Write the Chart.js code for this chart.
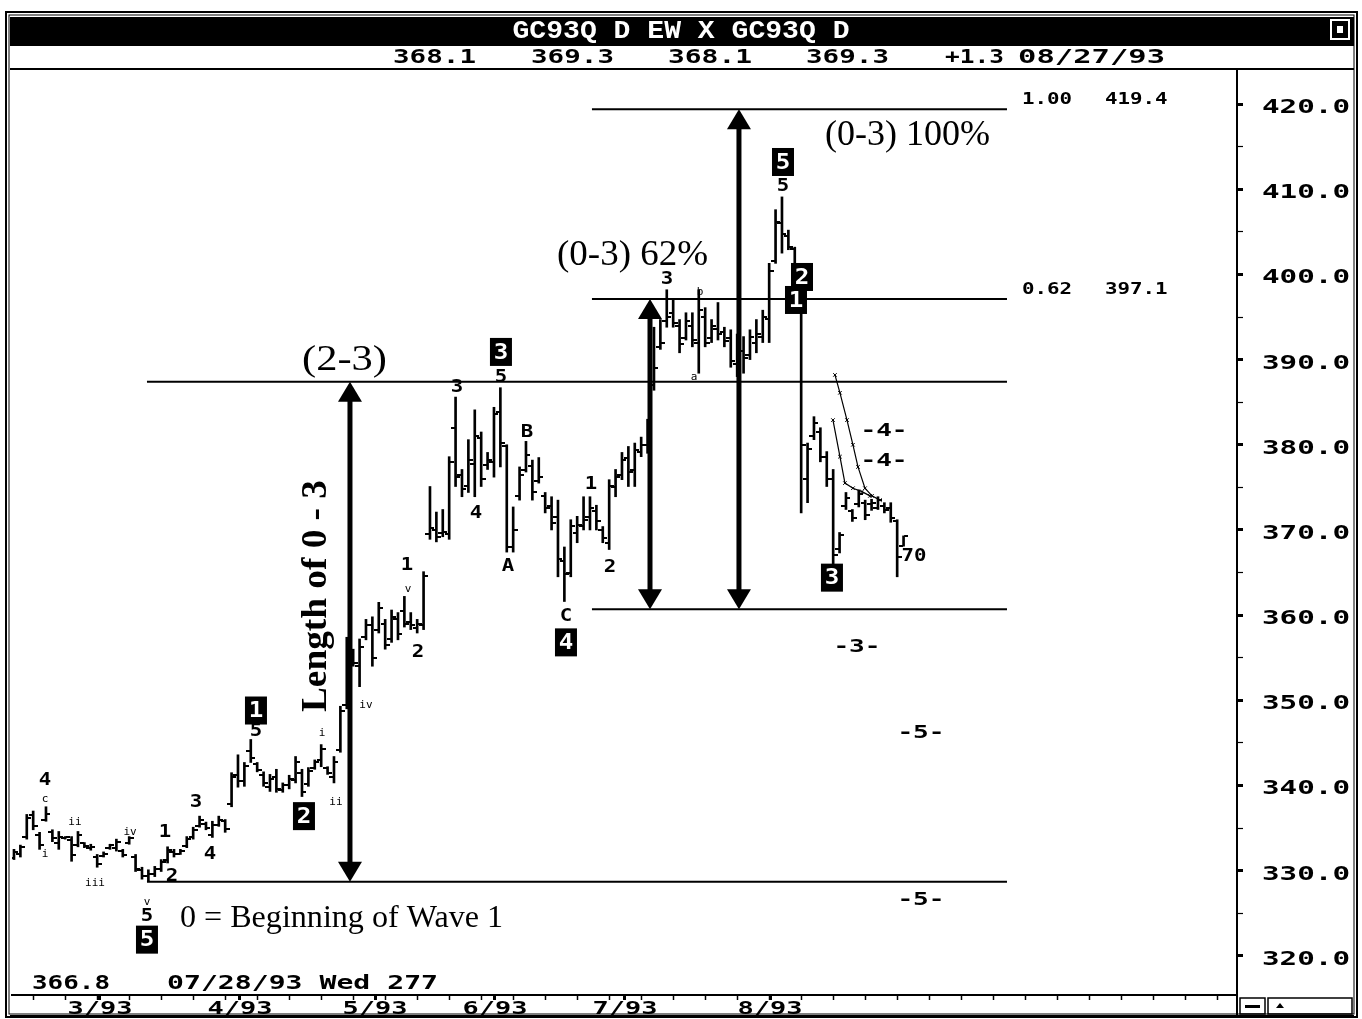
<!DOCTYPE html>
<html><head><meta charset="utf-8">
<script src="https://cdn.jsdelivr.net/npm/chart.js@4.4.1/dist/chart.umd.min.js"></script>
<style>html,body{margin:0;padding:0;background:#fff;}canvas{display:block;}</style>
</head><body>
<canvas id="c" width="1362" height="1019"></canvas>
<script>
// ---------- DATA ----------
const highs = [332.5,333.0,336.6,337.0,334.5,337.5,334.8,334.6,334.0,334.0,
334.6,333.3,333.1,331.9,332.2,333.1,333.7,332.5,334.0,331.9,
330.4,330.1,330.5,331.3,332.8,332.5,332.5,334.0,335.1,336.4,
335.7,335.8,336.4,336.0,341.5,343.6,342.7,345.4,342.7,341.6,
341.3,341.9,340.3,341.2,343.4,341.9,342.1,343.0,344.8,342.2,343.4,
349.3,357.4,356.0,357.2,359.5,359.8,361.5,359.5,360.6,360.3,
362.2,360.3,359.5,365.1,375.1,372.1,372.4,378.6,385.6,377.1,
380.6,384.1,381.5,379.1,384.4,386.7,380.0,372.7,377.4,380.4,
378.2,378.5,374.4,373.9,373.5,368.0,371.2,371.6,373.9,373.9,
372.9,370.4,375.9,377.1,379.1,379.8,380.2,380.9,383.0,393.8,
394.7,398.2,397.0,394.7,395.5,395.5,398.2,396.1,394.7,396.7,
393.8,393.5,393.0,392.7,393.5,394.7,395.8,401.3,407.6,
409.1,405.2,403.2,399.4,380.2,383.3,382.0,379.2,377.1,369.7,
374.4,372.4,374.7,373.5,373.6,373.9,373.2,373.2,371.2,369.3];
const lows = [331.3,331.6,333.7,334.8,332.5,335.8,333.4,332.5,333.7,331.1,
332.8,332.7,332.4,330.4,331.6,332.5,332.3,331.6,333.1,329.9,
329.0,328.7,329.3,329.9,330.9,331.6,331.9,332.7,333.7,335.1,
334.8,333.9,335.2,334.5,337.5,339.8,339.9,342.7,341.6,339.9,
339.3,339.2,339.2,339.6,340.3,338.7,339.9,341.9,342.2,341.3,340.3,
343.9,349.0,354.0,351.6,357.1,354.0,357.9,356.0,356.8,357.1,
358.6,358.3,357.9,358.3,368.9,368.6,369.2,368.9,375.1,373.9,
374.4,373.9,375.1,377.1,376.2,377.4,367.4,367.4,373.5,376.8,
373.5,375.5,372.0,370.0,364.5,361.6,364.5,368.5,370.0,370.0,
370.0,368.5,367.7,373.9,375.9,375.1,375.1,378.6,379.0,386.4,
391.2,393.8,393.8,390.8,392.3,391.5,388.4,391.5,392.0,392.3,
391.5,389.1,388.0,388.4,390.0,390.8,392.0,392.0,401.3,
402.5,402.9,399.0,372.0,373.2,380.6,378.0,375.1,365.9,367.3,
372.4,371.0,372.7,371.2,372.3,372.4,372.0,370.9,364.5,368.1];
const opens = [331.5,332.0,334.0,336.5,334.2,336.0,334.5,333.2,333.8,333.6,
333.0,333.2,332.6,331.6,331.7,332.6,332.6,332.3,333.3,331.6,
330.1,329.4,329.6,330.2,331.2,332.2,332.0,332.9,333.9,335.3,
335.5,334.2,335.4,335.8,337.8,341.2,340.5,344.0,342.5,341.2,
339.8,341.0,339.5,340.0,340.6,341.5,340.2,342.0,343.0,342.0,341.0,
344.2,349.5,355.6,354.0,357.4,358.8,358.3,359.0,357.2,359.6,
360.5,359.2,358.5,358.8,369.5,370.0,369.6,369.5,382.0,376.5,
375.2,377.8,380.8,377.6,378.0,383.8,379.8,368.0,374.0,377.0,
377.5,375.8,374.0,372.8,371.5,366.4,365.0,369.6,370.5,371.5,
372.2,370.0,368.5,375.0,376.4,378.5,377.0,379.2,380.0,387.0,
391.5,394.5,395.5,394.0,392.5,394.0,392.0,395.0,392.5,393.6,
393.2,392.5,389.5,391.0,390.5,392.0,392.6,394.8,401.6,
406.0,404.5,403.0,398.8,376.0,381.0,381.5,378.6,376.0,367.8,
372.8,372.2,373.0,373.2,373.0,372.6,372.8,372.6,371.0,368.1];
const closes = [332.2,332.8,336.2,335.2,333.0,336.6,333.8,334.0,333.9,331.8,
334.2,332.9,332.8,330.8,332.0,333.0,333.4,331.8,333.8,330.2,
329.4,329.6,330.2,331.0,332.4,331.9,332.3,333.7,334.8,336.0,
335.0,335.4,336.0,334.9,341.0,340.5,342.3,343.2,341.8,340.3,
340.8,339.6,340.0,340.8,342.8,339.2,341.7,342.7,344.3,341.5,342.8,
348.8,356.8,354.4,356.2,358.8,355.0,360.8,356.5,359.8,357.8,
359.0,358.8,359.0,364.6,370.2,369.2,369.8,378.0,376.2,374.8,
378.2,381.0,376.0,378.2,383.6,380.2,368.0,370.0,376.5,378.8,
374.5,376.2,372.6,370.8,366.6,364.8,370.5,370.6,371.2,372.6,
371.0,369.0,375.2,376.2,378.2,376.8,379.4,380.0,382.5,389.0,
392.0,395.0,394.3,391.8,394.5,392.3,395.8,392.0,394.0,393.0,
392.2,389.8,391.0,390.2,392.6,393.0,395.0,400.4,406.2,
404.8,403.2,399.5,380.0,379.5,382.5,378.6,376.0,367.0,369.4,
373.8,371.4,374.2,371.8,373.2,373.5,372.4,371.4,366.8,369.3];

// axis ticks / labels
const yTickValues = [320,325,330,335,340,345,350,355,360,365,370,375,380,385,390,395,400,405,410,415,420];
const monthLabels = ['3/93','4/93','5/93','6/93','7/93','8/93'];
const monthPos = [13.44, 35.31, 56.41, 75.16, 95.47, 118.13];

// header values
const titleText = 'GC93Q D EW X GC93Q D';
const headerValues = ['368.1','369.3','368.1','369.3','+1.3','08/27/93'];
const cursorReadout = ['366.8','07/28/93 Wed 277'];

// projection levels
const zeroLevel = 328.7;     // 0 = beginning of wave 1
const wave3Level = 387.4;    // top of wave 3
const wave4Level = 360.7;    // low of wave 4
const fibRatios = ['1.00','0.62'];
const fibValues = [419.4, 397.1];

// wave labels [text, barIndex, price]
const boldLabels = [['4',4.84,340.6],['1',23.59,334.5],['2',24.69,329.3],['3',28.44,338.0],['4',30.63,331.9],
 ['5',20.78,324.6],['5',37.81,346.3],['1',61.41,365.8],['2',63.13,355.6],['3',69.22,386.7],['5',76.09,387.9],
 ['4',72.19,372.0],['B',80.16,381.5],['A',77.19,365.7],['1',90.16,375.3],['2',93.13,365.6],['C',86.25,359.8],
 ['3',102.03,399.4],['5',120.16,410.4],['70',140.63,366.9]];
const dashLabels = [['-4-',135.94,381.6],['-4-',135.94,378.1],['-3-',131.72,356.2],['-5-',141.72,346.1],['-5-',141.72,326.5]];
const smallLabels = [['c',4.84,338.4],['i',4.84,331.9],['ii',9.53,335.7],['iii',12.66,328.5],['iv',18.13,334.5],
 ['v',20.78,326.3],['i',48.13,346.2],['ii',50.31,338.0],['iv',55.0,349.4],['v',61.56,363.0],['b',107.19,397.9],['a',106.25,387.9]];
const boxLabels = [['5',20.78,321.9],['1',37.81,348.8],['2',45.31,336.4],['3',76.09,390.9],['4',86.25,356.8],
 ['5',120.16,413.2],['2',123.13,399.7],['1',122.19,397.0],['3',127.81,364.4]];

// projection "x" lines
const projUpperX = [128.28,129.06,130.16,131.09,131.88,132.97,134.06,135.31];
const projUpperY = [388.2,386.1,382.9,380.0,377.4,374.9,374.0,373.5];
const projLowerX = [127.97,129.06,129.84,131.09,132.5,133.75];
const projLowerY = [382.9,378.6,375.5,374.9,374.5,374.0];

// annotation geometry (in data units)
const lineStartWave = 20.78, lineStartFib = 90.31, lineEnd = 155.16;
const arrowX = [52.5, 99.38, 113.28];
const arrowTop = [wave3Level, fibValues[1], fibValues[0]];
const arrowBottom = [zeroLevel, wave4Level, wave4Level];

// ---------- helpers ----------
function tickCanvas(left){const c=document.createElement('canvas');c.width=9;c.height=2;const g=c.getContext('2d');g.fillStyle='#000';g.fillRect(left?0:5,0,4,2);return c;}
const tickL = tickCanvas(true), tickR = tickCanvas(false);

function txt(ctx,s,x,y,font,sx,color,align){
  ctx.save();ctx.font=font;ctx.fillStyle=color||'#000';ctx.textBaseline='middle';ctx.textAlign=align||'center';
  ctx.translate(x,y);ctx.scale(sx||1,1);ctx.fillText(s,0,0);ctx.restore();
}
function txtW(ctx,s,x0,x1,y,font,color){
  ctx.save();ctx.font=font;const w=ctx.measureText(s).width;ctx.restore();
  txt(ctx,s,x0,y,font,(x1-x0)/w,color,'left');
}
const MONO='"DejaVu Sans Mono", monospace';
const SERIF='"Liberation Serif", "Times New Roman", serif';

const lineDS = (pts,w)=>({type:'line',data:pts,borderColor:'#000',borderWidth:w,pointRadius:0,fill:false,tension:0});

const datasets = [
  {type:'scatter',data:opens.map((v,i)=>({x:i,y:v})),pointStyle:tickL,pointRadius:3,showLine:false},
  {type:'scatter',data:closes.map((v,i)=>({x:i,y:v})),pointStyle:tickR,pointRadius:3,showLine:false},
  {type:'bar',data:highs.map((h,i)=>({x:i,y:[lows[i],h]})),backgroundColor:'#000',borderWidth:0,barThickness:2,grouped:false,borderSkipped:false},
  lineDS([{x:lineStartWave,y:wave3Level},{x:lineEnd,y:wave3Level}],2),
  lineDS([{x:lineStartWave,y:zeroLevel},{x:lineEnd,y:zeroLevel}],2),
  lineDS([{x:lineStartFib,y:wave4Level},{x:lineEnd,y:wave4Level}],2),
  lineDS([{x:lineStartFib,y:fibValues[0]},{x:lineEnd,y:fibValues[0]}],2),
  lineDS([{x:lineStartFib,y:fibValues[1]},{x:lineEnd,y:fibValues[1]}],2),
  ...arrowX.map((ax,k)=>lineDS([{x:ax,y:arrowTop[k]-1.5},{x:ax,y:arrowBottom[k]+1.5}],5)),
  {type:'line',data:projUpperX.map((x,i)=>({x,y:projUpperY[i]})),borderColor:'#000',borderWidth:1.2,pointStyle:'crossRot',pointRadius:2.5,pointBorderWidth:1,pointBorderColor:'#000',tension:0,fill:false},
  {type:'line',data:projLowerX.map((x,i)=>({x,y:projLowerY[i]})),borderColor:'#000',borderWidth:1.2,pointStyle:'crossRot',pointRadius:2.5,pointBorderWidth:1,pointBorderColor:'#000',tension:0,fill:false}
];

const xTicks = [];
for (let v=3; v<=188; v+=5) xTicks.push(v);
monthPos.forEach(p=>xTicks.push(p));
xTicks.sort((a,b)=>a-b);

// stretch axis label text horizontally (bitmap-like wide font)
function stretchLabels(scale,sx,dx,dy){
  const o=scale.drawLabels;
  scale.drawLabels=function(a){
    const g=this.ctx;const pf=CanvasRenderingContext2D.prototype.fillText;
    g.fillText=function(t,x,y,m){this.save();this.translate(x+dx,y+dy);this.scale(sx,1);pf.call(this,t,0,0);this.restore();};
    try{o.call(this,a);}finally{delete g.fillText;}
  };
}

const deco = {
  id:'deco',
  beforeDraw(chart){
    const c=chart.ctx;
    c.save();c.fillStyle='#fff';c.fillRect(0,0,chart.width,chart.height);c.restore();
    const ys=chart.scales.y, xs=chart.scales.x;
    if(!ys.__w){stretchLabels(ys,1.54,11,4);ys.__w=true;}
    if(!xs.__w){stretchLabels(xs,1.5,0,-1);xs.__w=true;}
  },
  afterDraw(chart){
    const c=chart.ctx, xs=chart.scales.x, ys=chart.scales.y;
    const X=v=>xs.getPixelForValue(v), Y=v=>ys.getPixelForValue(v);
    // frame
    c.save();c.strokeStyle='#000';c.lineWidth=2;
    c.strokeRect(6,12,1351,1005);
    c.lineWidth=1;c.strokeRect(9,15,1345,999);
    c.fillStyle='#000';c.fillRect(10,17,1344,27);
    c.fillRect(10,68,1344,2);
    c.fillRect(10,44,1344,2);
    c.fillRect(1236,995,2,22);
    c.fillRect(10,1015,1344,2);
    // icon
    c.strokeStyle='#fff';c.lineWidth=2;c.strokeRect(1331,20,18,19);
    c.fillStyle='#fff';c.fillRect(1337,26,6,7);
    // bottom-right buttons
    c.strokeStyle='#000';c.lineWidth=1.5;c.strokeRect(1240,998,25,16);c.strokeRect(1268,998,84,16);
    c.fillStyle='#000';c.fillRect(1245,1005,15,3);
    c.beginPath();c.moveTo(1276,1008);c.lineTo(1280,1003);c.lineTo(1284,1008);c.closePath();c.fill();
    c.restore();
    // header texts
    txt(c,titleText,681,31,'bold 26px "Liberation Mono", monospace',1.08,'#fff');
    const hx=[[393,476],[531,614],[668,752],[806,889],[945,1004],[1018,1165]];
    headerValues.forEach((s,i)=>txtW(c,s,hx[i][0],hx[i][1],58,'bold 19px '+MONO,'#000'));
    txtW(c,cursorReadout[0],32,110,984,'bold 19px '+MONO,'#000');
    txtW(c,cursorReadout[1],167,438,984,'bold 19px '+MONO,'#000');
    // fib labels
    fibRatios.forEach((s,i)=>{txt(c,s,1022,Y(fibValues[i])-9,'bold 16px '+MONO,1.3,'#000','left');
      txt(c,fibValues[i].toFixed(1),1105,Y(fibValues[i])-9,'bold 16px '+MONO,1.3,'#000','left');});
    // arrowheads
    c.save();c.fillStyle='#000';
    arrowX.forEach((ax,k)=>{const x=X(ax),yt=Y(arrowTop[k]),yb=Y(arrowBottom[k]);
      c.beginPath();c.moveTo(x,yt);c.lineTo(x-12,yt+20);c.lineTo(x+12,yt+20);c.closePath();c.fill();
      c.beginPath();c.moveTo(x,yb);c.lineTo(x-12,yb-20);c.lineTo(x+12,yb-20);c.closePath();c.fill();});
    c.restore();
    // wave labels
    boldLabels.forEach(([s,i,v])=>txt(c,s,X(i),Y(v),'bold 18px '+MONO,1.15));
    dashLabels.forEach(([s,i,v])=>txt(c,s,X(i),Y(v),'bold 18px '+MONO,1.45));
    smallLabels.forEach(([s,i,v])=>txt(c,s,X(i),Y(v),'11px '+MONO,1.0));
    boxLabels.forEach(([s,i,v])=>{const x=X(i),y=Y(v);c.save();c.fillStyle='#000';c.fillRect(x-11,y-14,22,28);c.restore();
      txt(c,s,x,y+1,'bold 22px '+MONO,1.1,'#fff');});
    // serif annotations
    txtW(c,'(2-3)',302,387,361,'36px '+SERIF,'#000');
    txtW(c,'(0-3) 62%',557,708,256,'36px '+SERIF,'#000');
    txtW(c,'(0-3) 100%',825,990,136,'36px '+SERIF,'#000');
    txtW(c,'0 = Beginning of Wave 1',180,503,919,'32px '+SERIF,'#000');
    c.save();c.translate(317,596);c.rotate(-Math.PI/2);c.font='bold 36px '+SERIF;c.fillStyle='#000';c.textAlign='center';c.textBaseline='middle';
    const lw=c.measureText('Length of 0 - 3').width;c.scale(232/lw,1);c.fillText('Length of 0 - 3',0,0);c.restore();
  }
};

new Chart(document.getElementById('c'),{
  type:'bar',
  data:{datasets},
  options:{
    responsive:false,animation:false,events:[],
    layout:{padding:{left:12,top:70,right:0,bottom:4}},
    plugins:{legend:{display:false},tooltip:{enabled:false},title:{display:false}},
    scales:{
      x:{type:'linear',min:-0.31,max:191.1,offset:false,
        afterBuildTicks:s=>{s.ticks=xTicks.map(v=>({value:v}));},
        afterFit:s=>{s.height=20;},
        border:{display:true,color:'#000',width:2},
        grid:{display:true,drawOnChartArea:false,offset:false,color:'#000',tickColor:'#000',tickLength:5,
          tickWidth:ctx=>(ctx.tick&&monthPos.includes(ctx.tick.value))?3:1.5},
        ticks:{autoSkip:false,maxRotation:0,padding:0,color:'#000',font:{family:'DejaVu Sans Mono',weight:'bold',size:18},
          callback:(v)=>{const k=monthPos.indexOf(v);return k>=0?monthLabels[k]:'';}}
      },
      y:{position:'right',min:315.4,max:424.0,
        afterBuildTicks:s=>{s.ticks=yTickValues.map(v=>({value:v}));},
        afterFit:s=>{s.width=125;},
        border:{display:true,color:'#000',width:2},
        grid:{drawOnChartArea:false,color:'#000',tickColor:'#000',tickLength:6,
          tickWidth:ctx=>(ctx.tick&&ctx.tick.value%10===0)?3:1.2},
        ticks:{padding:8,color:'#000',font:{family:'DejaVu Sans Mono',weight:'bold',size:19},
          callback:(v)=>v%10===0?v.toFixed(1):''}
      }
    }
  },
  plugins:[deco]
});
</script>
</body></html>
